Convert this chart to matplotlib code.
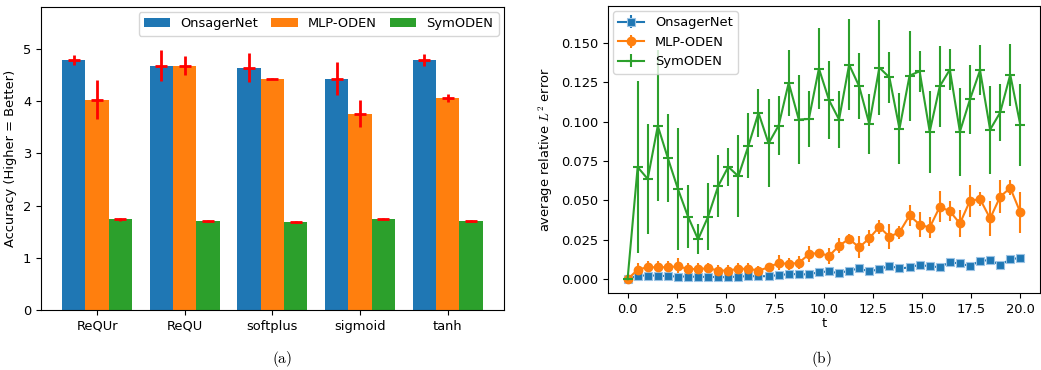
import numpy as np
import matplotlib
matplotlib.use("Agg")
import matplotlib.pyplot as plt

plt.rcParams["mathtext.fontset"] = "cm"

# ---- (a) accuracy per activation ----
activations = ["ReQUr", "ReQU", "softplus", "sigmoid", "tanh"]
methods = ["OnsagerNet", "MLP-ODEN", "SymODEN"]
acc_onsager = [4.79, 4.68, 4.64, 4.43, 4.79]
acc_onsager_err = [0.10, 0.29, 0.28, 0.32, 0.11]
acc_mlp = [4.03, 4.68, 4.43, 3.76, 4.06]
acc_mlp_err = [0.37, 0.18, 0.005, 0.26, 0.07]
acc_sym = [1.74, 1.70, 1.68, 1.74, 1.70]
acc_sym_err = [0.03, 0.02, 0.02, 0.02, 0.015]

# ---- (b) error over time ----
t = np.linspace(0.0, 20.0, 40)
err_onsager = [0.0, 0.0023, 0.0023, 0.0023, 0.0019, 0.0017, 0.0017, 0.0015,
               0.0015, 0.0013, 0.0013, 0.0017, 0.0019, 0.0019, 0.0019, 0.0026,
               0.0032, 0.0032, 0.0030, 0.0045, 0.0049, 0.0038, 0.0055, 0.0068,
               0.0049, 0.0064, 0.0085, 0.0068, 0.0075, 0.0092, 0.0081, 0.0077,
               0.0107, 0.0100, 0.0083, 0.0117, 0.0121, 0.0090, 0.0126, 0.0136]
err_onsager_sd = [0.0005, 0.0008, 0.0008, 0.0008, 0.0008, 0.0008, 0.0008, 0.0008,
                  0.0008, 0.0008, 0.0008, 0.0008, 0.0008, 0.0008, 0.0008, 0.0008,
                  0.0009, 0.0009, 0.0009, 0.0009, 0.0009, 0.0009, 0.0010, 0.0010,
                  0.0010, 0.0010, 0.0010, 0.0010, 0.0010, 0.0010, 0.0010, 0.0010,
                  0.0011, 0.0011, 0.0011, 0.0011, 0.0011, 0.0011, 0.0012, 0.0012]
err_mlp = [0.0, 0.0060, 0.0077, 0.0075, 0.0077, 0.0081, 0.0066, 0.0064,
           0.0070, 0.0055, 0.0055, 0.0066, 0.0066, 0.0055, 0.0075, 0.0104,
           0.0096, 0.0104, 0.0158, 0.0168, 0.0147, 0.0213, 0.0256, 0.0202,
           0.0260, 0.0332, 0.0270, 0.0298, 0.0405, 0.0347, 0.0328, 0.0460,
           0.0432, 0.0354, 0.0498, 0.0509, 0.0386, 0.0524, 0.0580, 0.0424]
err_mlp_sd = [0.0005, 0.0040, 0.0040, 0.0040, 0.0040, 0.0053, 0.0035, 0.0036,
              0.0036, 0.0035, 0.0034, 0.0040, 0.0034, 0.0030, 0.0030, 0.0047,
              0.0040, 0.0042, 0.0050, 0.0024, 0.0050, 0.0048, 0.0030, 0.0070,
              0.0050, 0.0047, 0.0078, 0.0040, 0.0068, 0.0078, 0.0065, 0.0098,
              0.0063, 0.0085, 0.0102, 0.0045, 0.0110, 0.0105, 0.0047, 0.0130]
err_sym = [0.0, 0.0712, 0.0637, 0.0974, 0.0769, 0.0573, 0.0398, 0.0253,
           0.0398, 0.0592, 0.0714, 0.0654, 0.0848, 0.1057, 0.0863, 0.0976,
           0.1248, 0.1014, 0.1018, 0.1338, 0.1138, 0.1014, 0.1363, 0.1225,
           0.0986, 0.1344, 0.1282, 0.0956, 0.1293, 0.1321, 0.0937, 0.1225,
           0.1331, 0.0937, 0.1142, 0.1327, 0.0950, 0.1059, 0.1299, 0.0980]
err_sym_sd = [0.0005, 0.0545, 0.0350, 0.0480, 0.0280, 0.0387, 0.0200, 0.0095,
              0.0210, 0.0200, 0.0120, 0.0260, 0.0205, 0.0153, 0.0280, 0.0190,
              0.0210, 0.0280, 0.0180, 0.0260, 0.0250, 0.0180, 0.0290, 0.0210,
              0.0190, 0.0300, 0.0160, 0.0227, 0.0285, 0.0130, 0.0260, 0.0257,
              0.0130, 0.0280, 0.0217, 0.0158, 0.0280, 0.0178, 0.0197, 0.0258]

c_blue, c_orange, c_green = "#1f77b4", "#ff7f0e", "#2ca02c"
fs = 9.4

fig = plt.figure(figsize=(10.41, 3.70), dpi=100)
ax1 = fig.add_axes([0.0394, 0.162, 0.4446, 0.819])
ax2 = fig.add_axes([0.584, 0.208, 0.415, 0.776])

# bar chart with red "+" error markers
x = np.arange(len(activations))
w = 0.8 / 3
for off, vals, errs, col, lab in [(-w, acc_onsager, acc_onsager_err, c_blue, methods[0]),
                                  (0.0, acc_mlp, acc_mlp_err, c_orange, methods[1]),
                                  (w, acc_sym, acc_sym_err, c_green, methods[2])]:
    ax1.bar(x + off, vals, w, color=col, label=lab)
    ax1.errorbar(x + off, vals, yerr=errs, fmt="_", color="red", ms=8, mew=2,
                 elinewidth=2, capsize=0, zorder=3)
ax1.set_xticks(x)
ax1.set_xticklabels(activations)
ax1.set_ylim(0, 5.8)
ax1.set_yticks([0, 1, 2, 3, 4, 5])
ax1.set_ylabel("Accuracy (Higher = Better)", fontsize=fs)
ax1.tick_params(labelsize=fs)
ax1.legend(loc="upper right", ncol=3, fontsize=fs, handlelength=2.0,
           columnspacing=1.0, borderaxespad=0.4)

# error curves
ax2.errorbar(t, err_onsager, yerr=err_onsager_sd, color=c_blue, marker="s",
             markersize=6, markeredgecolor="#9cc3e4", markeredgewidth=0.8,
             lw=1.5, elinewidth=1.5, capsize=0, label=methods[0])
ax2.errorbar(t, err_mlp, yerr=err_mlp_sd, color=c_orange, marker="o",
             markersize=6, lw=1.5, elinewidth=1.5, capsize=0, label=methods[1])
ax2.errorbar(t, err_sym, yerr=err_sym_sd, color=c_green, marker="_",
             markersize=7, markeredgewidth=1.5, lw=1.5, elinewidth=1.5,
             capsize=0, label=methods[2])
ax2.set_xlabel("t", fontsize=fs, labelpad=1)
ax2.set_ylabel(r"average relative $L^2$ error", fontsize=fs)
ax2.tick_params(labelsize=fs)
ax2.set_yticks([0.0, 0.025, 0.05, 0.075, 0.1, 0.125, 0.15])
ax2.legend(loc="upper left", fontsize=fs, borderaxespad=0.4)

fig.text(0.271, 0.02, r"$\mathrm{(a)}$", fontsize=11, ha="center")
fig.text(0.789, 0.02, r"$\mathrm{(b)}$", fontsize=11, ha="center")

fig.savefig("out.png", dpi=100)
